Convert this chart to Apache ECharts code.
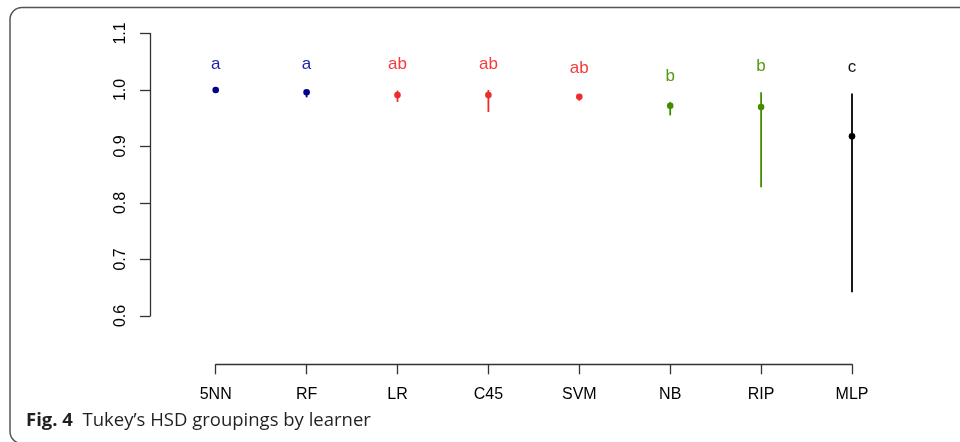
<!DOCTYPE html>
<html>
<head>
<meta charset="utf-8">
<script src="https://cdn.jsdelivr.net/npm/echarts@6/dist/echarts.min.js"></script>
<style>html,body{margin:0;padding:0;background:#fff;}#c{width:960px;height:442px;}</style>
</head>
<body>
<div id="c"></div>
<script>
const learners = ['5NN', 'RF', 'LR', 'C45', 'SVM', 'NB', 'RIP', 'MLP'];
const means = [1.000, 0.996, 0.991, 0.991, 0.988, 0.972, 0.970, 0.918];
const lower = [0.999, 0.987, 0.979, 0.961, 0.981, 0.955, 0.828, 0.642];
const upper = [1.000, 1.000, 0.999, 1.000, 0.992, 0.979, 0.996, 0.994];
const groups = ['a', 'a', 'ab', 'ab', 'ab', 'b', 'b', 'c'];
const yTicks = [0.6, 0.7, 0.8, 0.9, 1.0, 1.1];

const groupColor = { a: '#00008B', ab: '#EE2C2C', b: '#458B00', c: '#000000' };
const textColor = { a: '#2222A8', ab: '#F43C3C', b: '#569A12', c: '#111111' };

const chart = echarts.init(document.getElementById('c'), null, { renderer: 'canvas' });
const data = learners.map((l, i) => [i, means[i], lower[i], upper[i]]);

chart.setOption({
  animation: false,
  backgroundColor: '#ffffff',
  grid: { left: 215.7, right: 108, top: 33.5, bottom: 126 },
  xAxis: {
    type: 'category', data: learners, boundaryGap: false, offset: 48.3,
    axisLine: { lineStyle: { color: '#333', width: 1.3 } },
    axisTick: { length: 10, lineStyle: { color: '#333', width: 1.3 } },
    axisLabel: { fontFamily: 'Liberation Sans', fontSize: 16, color: '#000', margin: 22 },
    splitLine: { show: false }
  },
  yAxis: {
    type: 'value', min: yTicks[0], max: yTicks[yTicks.length - 1], interval: 0.1, offset: 65.7,
    axisLine: { show: true, lineStyle: { color: '#333', width: 1.3 } },
    axisTick: { show: true, length: 10, lineStyle: { color: '#333', width: 1.3 } },
    axisLabel: { fontFamily: 'Liberation Sans', fontSize: 16, color: '#000', rotate: 90, margin: 21,
      formatter: v => v.toFixed(1) },
    splitLine: { show: false }
  },
  series: [{
    type: 'custom',
    data: data,
    renderItem: function (params, api) {
      const i = api.value(0);
      const g = groups[i];
      const pm = api.coord([i, api.value(1)]);
      const pl = api.coord([i, api.value(2)]);
      const pu = api.coord([i, api.value(3)]);
      return {
        type: 'group',
        children: [
          { type: 'line', shape: { x1: pl[0], y1: pl[1], x2: pu[0], y2: pu[1] },
            style: { stroke: groupColor[g], lineWidth: 1.8 } },
          { type: 'circle', shape: { cx: pm[0], cy: pm[1], r: 3.3 },
            style: { fill: groupColor[g] } },
          { type: 'text', style: { text: g, x: pu[0], y: pu[1] - 26, align: 'center', verticalAlign: 'middle',
            fontFamily: 'Liberation Sans', fontSize: 17, fill: textColor[g] } }
        ]
      };
    }
  }],
  graphic: [
    { type: 'rect', shape: { x: 10, y: 7.5, width: 990, height: 436, r: 12 },
      style: { fill: 'none', stroke: '#555', lineWidth: 1.5 }, silent: true },
    { type: 'text', left: 26, top: 411,
      style: { text: '{b|Fig. 4}  Tukey\u2019s HSD groupings by learner', fontFamily: 'Open Sans', fontSize: 18.5, fill: '#231f20',
        rich: { b: { fontFamily: 'Open Sans', fontWeight: 'bold', fontSize: 18.5, fill: '#231f20' } } } }
  ]
});
</script>
</body>
</html>
